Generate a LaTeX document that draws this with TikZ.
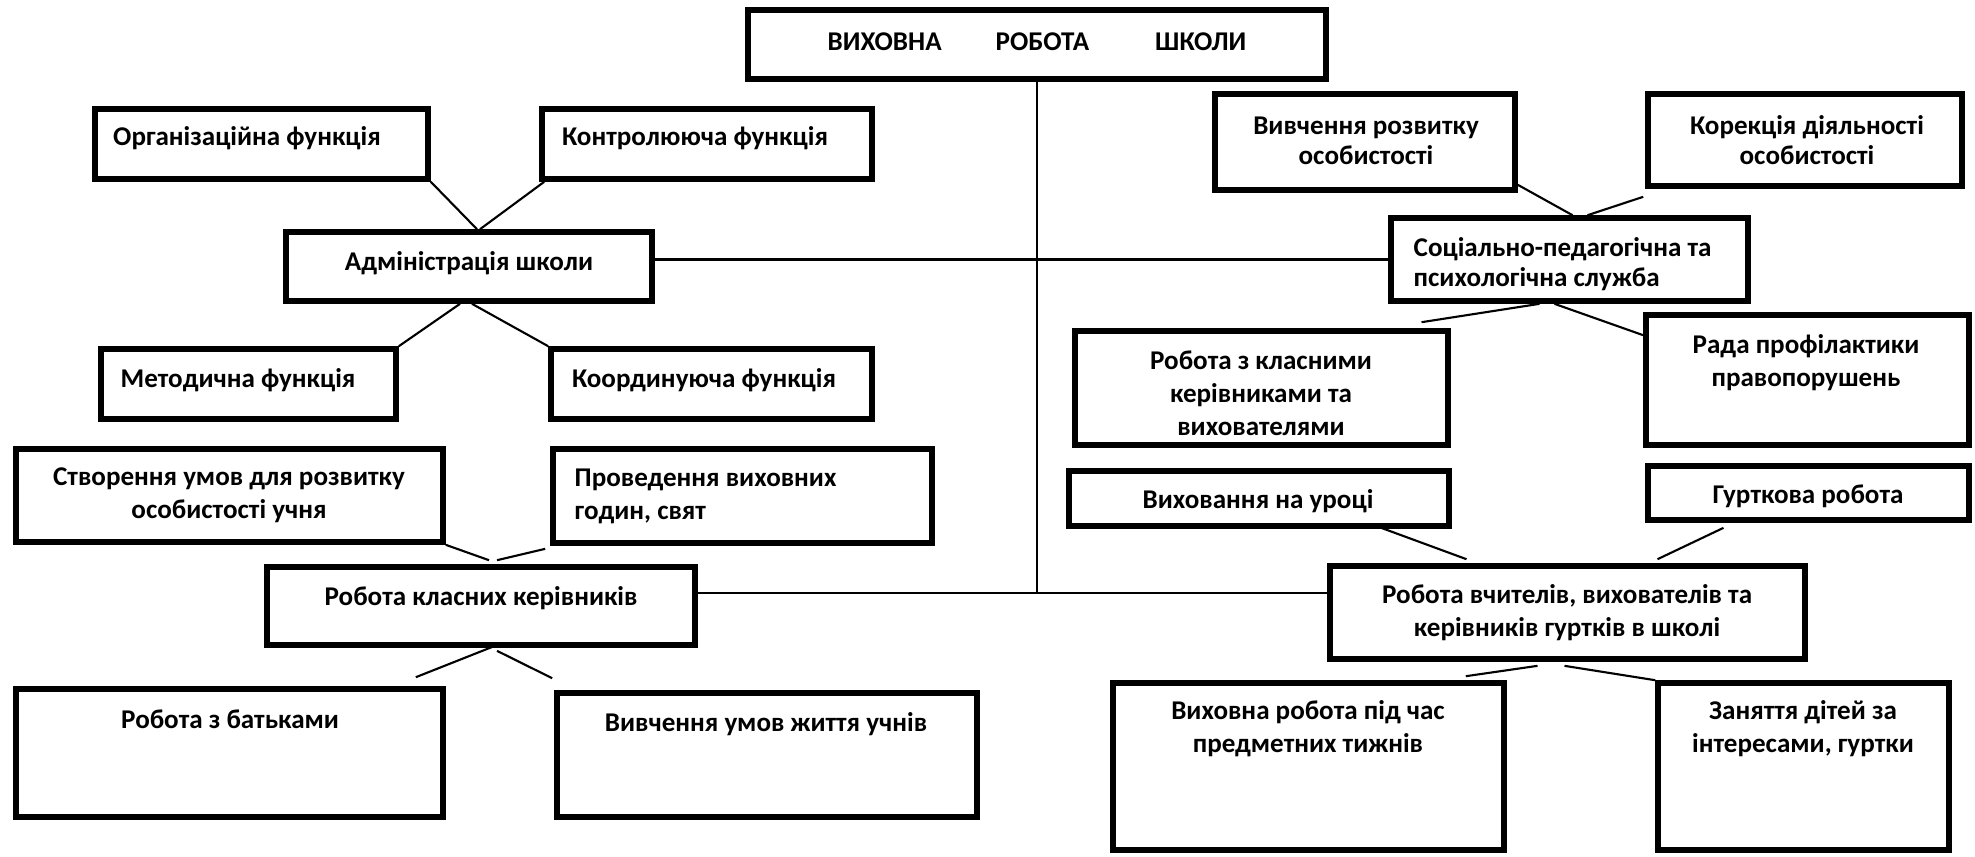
\documentclass[tikz,border=0pt]{standalone}
\usepackage{fontspec}
\setmainfont{Carlito}
\usetikzlibrary{fit,calc}
\newcommand{\boxfont}{\fontsize{7.7}{9.4}\selectfont\bfseries}
\begin{document}
\begin{tikzpicture}[x=0.01cm,y=-0.01cm,
  box/.style={draw,line width=1.6pt,inner sep=0pt},
  txt/.style={font=\boxfont,inner sep=0pt,align=center},
  link/.style={line width=0.6pt}]
\useasboundingbox (0,0) rectangle (1975,856);
% boxes
\node[box,fit={(748,10) (1326,79)}] (top) {};
\node[box,fit={(95,109) (428,179)}] (org) {};
\node[box,fit={(542,109) (872,179)}] (kontr) {};
\node[box,fit={(286,232) (652,301)}] (adm) {};
\node[box,fit={(101,349) (396,419)}] (metod) {};
\node[box,fit={(551,349) (872,419)}] (koord) {};
\node[box,fit={(1215,94) (1515,190)}] (vyvch) {};
\node[box,fit={(1648,94) (1962,186)}] (korek) {};
\node[box,fit={(1391,218) (1748,301)}] (soc) {};
\node[box,fit={(1075,331) (1448,445)}] (rkk) {};
\node[box,fit={(1646,315) (1969,445)}] (rada) {};
\node[box,fit={(16,449) (443,542)}] (stvor) {};
\node[box,fit={(553,449) (932,543)}] (provid) {};
\node[box,fit={(267,567) (695,645)}] (rkl) {};
\node[box,fit={(16,689) (443,817)}] (batk) {};
\node[box,fit={(557,693) (977,817)}] (umov) {};
\node[box,fit={(1069,471) (1449,526)}] (urok) {};
\node[box,fit={(1648,466) (1969,520)}] (gurt) {};
\node[box,fit={(1330,566) (1805,659)}] (vchyt) {};
\node[box,fit={(1113,683) (1504,850)}] (tyzhn) {};
\node[box,fit={(1658,683) (1949,850)}] (zan) {};
% texts
\node[txt] (top-t) at (1037,42) {ВИХОВНА\hspace{0.54cm}РОБОТА\hspace{0.66cm}ШКОЛИ};
\node[txt] (org-t) at (247,138) {Організаційна функція};
\node[txt] (kontr-t) at (695,138) {Контролююча функція};
\node[txt] (adm-t) at (469,263) {Адміністрація школи};
\node[txt] (metod-t) at (238,380) {Методична функція};
\node[txt] (koord-t) at (704,380) {Координуюча функція};
\node[txt,font=\fontsize{7.7}{8.4}\selectfont\bfseries] (vyvch-t) at (1366,141) {Вивчення розвитку\\особистості};
\node[txt,font=\fontsize{7.7}{8.4}\selectfont\bfseries] (korek-t) at (1807,140) {Корекція діяльності\\особистості};
\node[txt,align=left,anchor=west,font=\fontsize{7.7}{8.4}\selectfont\bfseries] (soc-t) at (1413,264) {Соціально-педагогічна та\\психологічна служба};
\node[txt] (rkk-t) at (1261,393) {Робота з класними\\керівниками та\\вихователями};
\node[txt] (rada-t) at (1806,363) {Рада профілактики\\правопорушень};
\node[txt] (stvor-t) at (229,495) {Створення умов для розвитку\\особистості учня};
\node[txt,align=left,anchor=west] (provid-t) at (574,496) {Проведення виховних\\годин, свят};
\node[txt] (rkl-t) at (481,598) {Робота класних керівників};
\node[txt] (batk-t) at (230,719) {Робота з батьками};
\node[txt] (umov-t) at (766,724) {Вивчення умов життя учнів};
\node[txt] (urok-t) at (1258,501) {Виховання на уроці};
\node[txt] (gurt-t) at (1808,496) {Гурткова робота};
\node[txt] (vchyt-t) at (1567,613) {Робота вчителів, вихователів та\\керівників гуртків в школі};
\node[txt] (tyzhn-t) at (1308,729) {Виховна робота під час\\предметних тижнів};
\node[txt] (zan-t) at (1803,729) {Заняття дітей за\\інтересами, гуртки};
% main lines
\coordinate (hub) at (1037,593);
\draw[link] (top.south) -- (hub);
\draw[link] (soc.west -| adm.east) -- (soc.west);
\draw[link] (rkl.east |- hub) -- (vchyt.west |- hub);
% links
\draw[link] (org.south east) -- ($(adm.north)+(8,0)$);
\draw[link] ($(kontr.south west)+(5,0)$) -- ($(adm.north)+(11,0)$);
\draw[link] ($(adm.south)+(-9,0)$) -- (metod.north east);
\draw[link] ($(adm.south)+(3,0)$) -- (koord.north west);
\draw[link] ($(vyvch.south east)+(0,-8)$) -- ($(soc.north)+(3,0)$);
\draw[link] ($(soc.north)+(18,0)$) -- ($(korek.south west)+(-2,8)$);
\draw[link] ($(soc.south)+(-30,0)$) -- ($(rkk.north)+(160,-6)$);
\draw[link] ($(soc.south)+(-15,0)$) -- ($(rada.north west)+(0,23)$);
\draw[link] (stvor.south east) -- ($(rkl.north)+(8,-4)$);
\draw[link] ($(provid.south west)+(-5,3)$) -- ($(rkl.north)+(16,-4)$);
\draw[link] ($(rkl.south)+(14,-2)$) -- ($(batk.north east)+(-30,-9)$);
\draw[link] ($(rkl.south)+(16,3)$) -- ($(umov.north west)+(-2,-12)$);
\draw[link] ($(urok.south)+(114,-4)$) -- ($(vchyt.north)+(-101,-4)$);
\draw[link] ($(gurt.south)+(-85,5)$) -- ($(vchyt.north)+(90,-4)$);
\draw[link] ($(vchyt.south)+(-30,4)$) -- ($(tyzhn.north east)+(-41,-4)$);
\draw[link] ($(vchyt.south)+(-3,4)$) -- (zan.north west);
\end{tikzpicture}
\end{document}
